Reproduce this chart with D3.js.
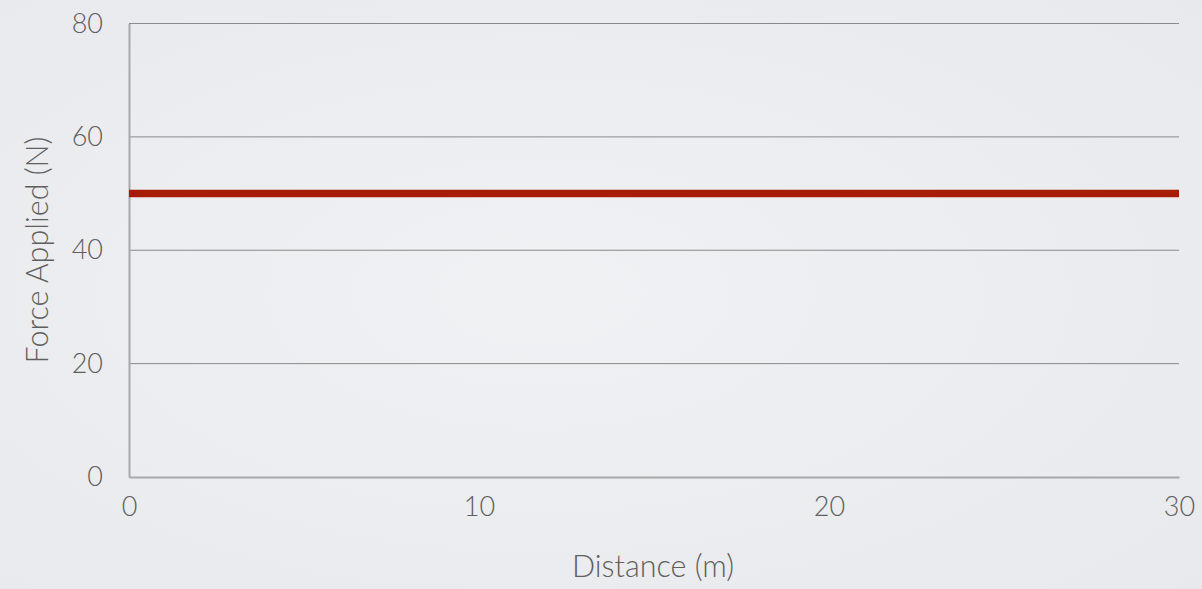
<!DOCTYPE html>
<html>
<head>
<meta charset="utf-8">
<script src="https://cdn.jsdelivr.net/npm/d3@7"></script>
<style>
  html, body { margin: 0; padding: 0; }
  body { width: 1202px; height: 589px; overflow: hidden; }
  text { font-family: Lato, "Open Sans", sans-serif; font-weight: 300; fill: #5f5f5f; }
</style>
</head>
<body>
<div id="chart"></div>
<script>
// data
const distance = [0, 30];
const force = [50, 50];
const xTicks = [0, 10, 20, 30];
const yTicks = [0, 20, 40, 60, 80];

const W = 1202, H = 589;
const margin = { top: 23.5, right: 23, bottom: 112, left: 129 };
const width = W - margin.left - margin.right;
const height = H - margin.top - margin.bottom;

const svg = d3.select("#chart").append("svg")
  .attr("width", W).attr("height", H);

const defs = svg.append("defs");
const grad = defs.append("radialGradient").attr("id", "bg")
  .attr("cx", "45%").attr("cy", "50%").attr("r", "75%");
grad.append("stop").attr("offset", "0%").attr("stop-color", "#f0f1f3");
grad.append("stop").attr("offset", "100%").attr("stop-color", "#e7e9ec");
svg.append("rect").attr("width", W).attr("height", H).attr("fill", "url(#bg)");

const g = svg.append("g").attr("transform", `translate(${margin.left},${margin.top})`);

const x = d3.scaleLinear().domain([0, 30]).range([0, width]);
const y = d3.scaleLinear().domain([0, 80]).range([height, 0]);

// gridlines
g.selectAll(".grid").data(yTicks.filter(d => d > 0)).enter().append("line")
  .attr("x1", 0).attr("x2", width)
  .attr("y1", d => y(d)).attr("y2", d => y(d))
  .attr("stroke", "#8a8a8a").attr("stroke-width", 1);

// y axis
const gy = g.append("g").call(d3.axisLeft(y).tickValues(yTicks).tickSize(0).tickPadding(26));
gy.select(".domain").attr("stroke", "#a8a8a8").attr("stroke-width", 2);
gy.selectAll("text").style("font-size", "27px").attr("fill", "#5f5f5f");

// x axis
const gx = g.append("g").attr("transform", `translate(0,${height})`)
  .call(d3.axisBottom(x).tickValues(xTicks).tickSize(0).tickPadding(20));
gx.select(".domain").attr("stroke", "#a8a8a8").attr("stroke-width", 2);
gx.selectAll("text").style("font-size", "27px").attr("fill", "#5f5f5f");

// series
const line = d3.line().x((d, i) => x(distance[i])).y(d => y(d));
g.append("path").datum(force)
  .attr("d", line)
  .attr("fill", "none")
  .attr("stroke", "#a71c05")
  .attr("stroke-width", 7.5);

// labels
svg.append("text")
  .attr("x", margin.left + width / 2 - 1).attr("y", 577)
  .attr("text-anchor", "middle")
  .style("font-size", "30.5px")
  .text("Distance (m)");

svg.append("text")
  .attr("transform", `translate(48,250) rotate(-90)`)
  .attr("text-anchor", "middle")
  .style("font-size", "30.5px")
  .text("Force Applied (N)");
</script>
</body>
</html>
